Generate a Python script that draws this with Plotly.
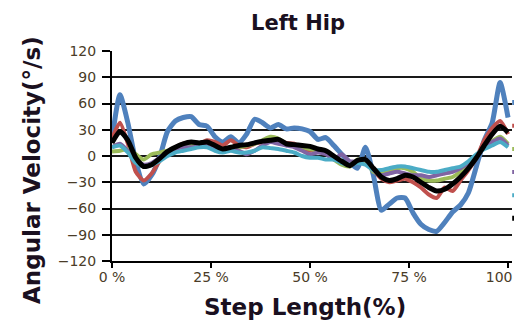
import plotly.graph_objects as go

step_pct = list(range(0, 101, 2))

blue = [19, 70, 38, -6, -32, -22, -2, 28, 40, 44, 45, 36, 34, 22, 16, 22, 15, 25, 42, 38,
        32, 36, 31, 32, 31, 28, 19, 21, 12, 2, -7, -14, 10, -22, -62, -55, -48, -48, -65, -78,
        -84, -86, -76, -64, -56, -42, -12, 18, 38, 84, 44]
red = [20, 38, 14, -18, -28, -20, -6, 4, 10, 14, 16, 14, 18, 16, 12, 18, 12, 10, 14, 16,
       20, 18, 15, 14, 8, 6, 8, 5, -2, -8, -10, -6, -6, -16, -26, -30, -28, -26, -30, -36,
       -44, -48, -36, -40, -28, -16, -2, 18, 32, 40, 25]
green = [5, 6, 8, 2, -4, 2, 4, 6, 9, 10, 12, 12, 12, 10, 8, 10, 10, 12, 14, 18,
         22, 20, 14, 12, 10, 8, 6, 4, -4, -10, -12, -4, -6, -18, -20, -18, -14, -14, -18, -26,
         -28, -28, -26, -24, -18, -10, 0, 10, 17, 22, 14]
purple = [10, 14, 6, -4, -10, -8, -2, 4, 8, 10, 10, 11, 12, 10, 6, 8, 6, 2, 6, 12,
          16, 14, 12, 10, 6, 2, 4, 2, -4, 2, -6, -6, -4, -16, -22, -20, -18, -20, -22, -22,
          -24, -22, -20, -18, -14, -8, 0, 10, 16, 20, 12]
cyan = [10, 12, 4, -8, -12, -10, -6, 0, 4, 6, 8, 10, 10, 6, 4, 6, 4, 4, 6, 10,
        9, 8, 6, 4, 0, -2, -2, -4, -4, -8, -10, -8, -10, -16, -16, -14, -12, -12, -14, -16,
        -18, -18, -16, -14, -12, -6, 2, 8, 12, 16, 10]
black = [15, 28, 18, -2, -12, -10, -3, 5, 10, 14, 16, 15, 16, 12, 8, 10, 12, 13, 15, 17,
         18, 19, 14, 13, 12, 11, 8, 6, 0, -6, -11, -5, -4, -14, -24, -28, -26, -22, -24, -30,
         -36, -40, -38, -32, -24, -14, -2, 12, 25, 34, 27]

series_names = ["Trial 1", "Trial 2", "Trial 3", "Trial 4", "Trial 5", "Mean"]
series_values = [blue, red, green, purple, cyan, black]
series_colors = ["#4F81BD", "#C0504D", "#9BBB59", "#8064A2", "#4BACC6", "#000000"]
series_widths = [5, 4, 4, 4, 4, 5]

y_ticks = [120, 90, 60, 30, 0, -30, -60, -90, -120]
x_ticks = [0, 25, 50, 75, 100]
x_tick_labels = ["0 %", "25 %", "50 %", "75 %", "100 %"]

fig = go.Figure()
for name, vals, col, w in zip(series_names, series_values, series_colors, series_widths):
    fig.add_trace(go.Scatter(x=step_pct, y=vals, mode="lines", name=name,
                             line=dict(color=col, width=w, shape="spline", smoothing=0.6)))

tick_font = dict(family="DejaVu Sans", size=14, color="#4a3c28")
title_color = "#1a1020"
fig.update_layout(
    width=522, height=320,
    paper_bgcolor="white", plot_bgcolor="white",
    margin=dict(l=104, r=18, t=43, b=67, autoexpand=False),
    title=dict(text="<b>Left Hip</b>", x=290 / 522, xanchor="center", xref="container",
               y=1 - 15 / 320, yanchor="middle", yref="container",
               font=dict(family="DejaVu Sans", size=21, color=title_color)),
    showlegend=True,
    legend=dict(x=0.988, xanchor="left", y=1 - (78 - 43) / 210, yanchor="top",
                font=dict(family="DejaVu Sans", size=15.5, color="#333333"),
                bgcolor="rgba(0,0,0,0)", borderwidth=0, traceorder="normal"),
    xaxis=dict(range=[0, 101], tickvals=x_ticks, ticktext=x_tick_labels,
               showgrid=False, zeroline=False, showline=True, linecolor="black", linewidth=2,
               ticks="outside", ticklen=5, tickwidth=1.5, tickcolor="black",
               ticklabelstandoff=-3, ticklabeloverflow="allow", tickfont=tick_font),
    yaxis=dict(range=[-120, 120], tickvals=y_ticks, showgrid=True, gridcolor="#1a1a1a",
               gridwidth=2, zeroline=False, showline=True, linecolor="black", linewidth=2,
               ticks="outside", ticklen=8, tickwidth=1.5, tickcolor="black",
               ticklabelstandoff=3, tickfont=tick_font),
)
fig.add_annotation(text="<b>Angular Velocity(°/s)</b>", textangle=-90,
                   xref="paper", yref="paper", x=-(104 - 24) / 400, y=(253 - 162) / 210,
                   xanchor="center", yanchor="middle", showarrow=False,
                   font=dict(family="DejaVu Sans", size=23, color=title_color))
fig.add_annotation(text="<b>Step Length(%)</b>",
                   xref="paper", yref="paper", x=(297 - 104) / 400, y=-(299 - 253) / 210,
                   xanchor="center", yanchor="middle", showarrow=False,
                   font=dict(family="DejaVu Sans", size=23, color=title_color))

fig.write_html("out.html")
